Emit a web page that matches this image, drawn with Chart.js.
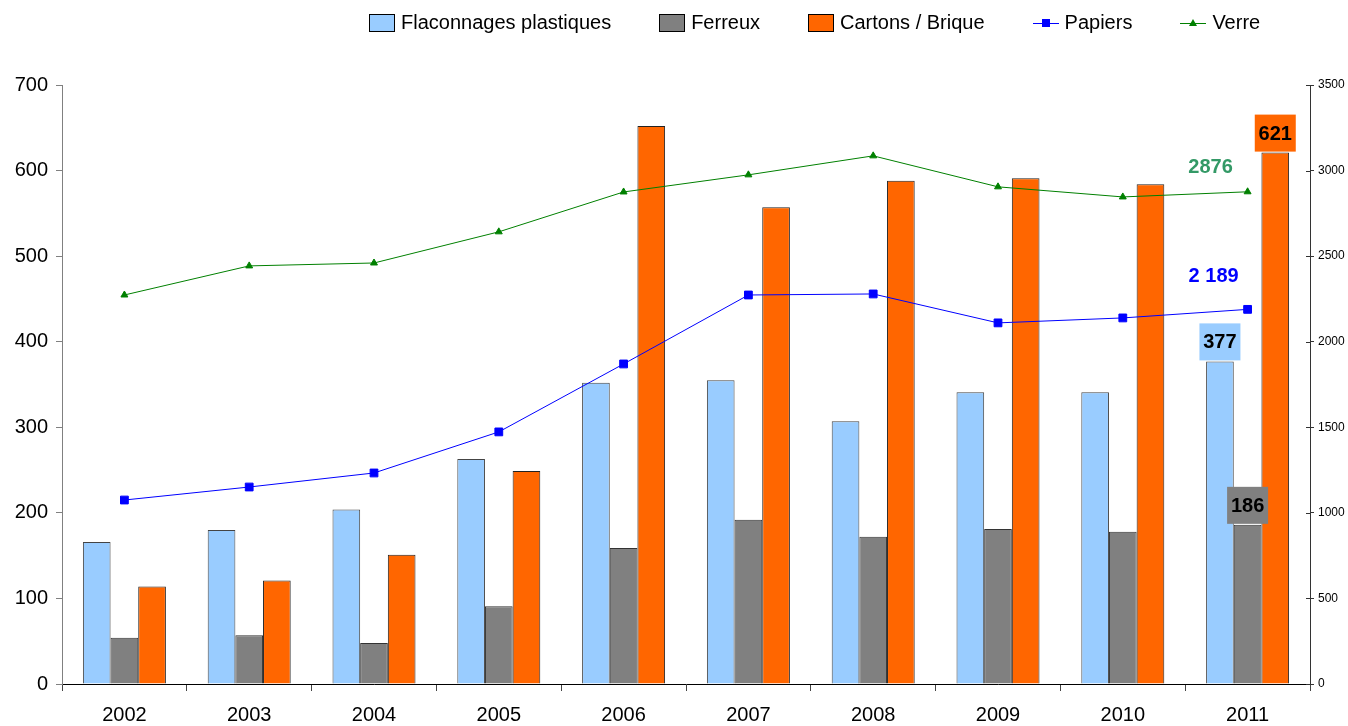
<!DOCTYPE html>
<html>
<head>
<meta charset="utf-8">
<script src="https://cdn.jsdelivr.net/npm/chart.js@4.4.0/dist/chart.umd.min.js"></script>
<style>
html, body { margin: 0; padding: 0; background: #fff; }
#wrap { position: relative; width: 1348px; height: 726px; }
#legend { position: absolute; left: 369px; top: 11px; display: flex; font-family: "Liberation Sans", Arial, sans-serif; font-size: 20px; color: #000; white-space: nowrap; }
.item { display: flex; align-items: center; margin-right: 48px; }
.item:last-child { margin-right: 0; }
.box { width: 24px; height: 16px; border: 1px solid #000; margin-right: 6px; }
.item svg { margin-right: 6px; }
</style>
</head>
<body>
<div id="wrap">
  <canvas id="chart" width="1348" height="726"></canvas>
  <div id="legend"></div>
</div>
<script>
// Data
const years = ['2002', '2003', '2004', '2005', '2006', '2007', '2008', '2009', '2010', '2011'];
const flaconnages = [166, 180, 204, 263, 352, 355, 307, 341, 341, 377];
const ferreux = [54, 57, 48, 91, 159, 192, 172, 181, 178, 186];
const cartons = [114, 121, 151, 249, 652, 557, 588, 591, 584, 621];
const papiers = [1075, 1151, 1233, 1473, 1870, 2273, 2279, 2110, 2139, 2189];
const verre = [2273, 2443, 2460, 2642, 2875, 2975, 3086, 2905, 2846, 2876];
const leftTicks = [0, 100, 200, 300, 400, 500, 600, 700];
const rightTicks = [0, 500, 1000, 1500, 2000, 2500, 3000, 3500];

const FONT = '"Liberation Sans", Arial, sans-serif';

function fmt(v, sep) {
    return String(v).replace(/\B(?=(\d{3})+(?!\d))/g, sep);
}

// labels shown on the last year only
const last = years.length - 1;
const barLabels = [
    { ds: 0, bg: '#99CCFF' },
    { ds: 1, bg: '#808080' },
    { ds: 2, bg: '#FF6600' }
];
const lineLabels = [
    { ds: 3, color: '#0000FF', sep: ' ', dx: -34, dy: -33 },
    { ds: 4, color: '#339966', sep: '', dx: -37, dy: -24 }
];

const labelPlugin = {
    id: 'valueLabels',
    afterDatasetsDraw(chart) {
        const ctx = chart.ctx;
        ctx.save();
        ctx.font = 'bold 20px ' + FONT;
        ctx.textAlign = 'center';
        ctx.textBaseline = 'middle';
        barLabels.forEach(l => {
            const el = chart.getDatasetMeta(l.ds).data[last];
            const w = 41, h = 37;
            ctx.fillStyle = l.bg;
            ctx.fillRect(el.x - w / 2, el.y - 1 - h, w, h);
            ctx.fillStyle = '#000';
            ctx.fillText(chart.data.datasets[l.ds].data[last], el.x, el.y - h / 2);
        });
        lineLabels.forEach(l => {
            const el = chart.getDatasetMeta(l.ds).data[last];
            ctx.fillStyle = l.color;
            ctx.fillText(fmt(chart.data.datasets[l.ds].data[last], l.sep), el.x + l.dx, el.y + l.dy);
        });
        ctx.restore();
    },
    afterDraw(chart) {
        // small inner ticks on the right axis
        const s = chart.scales.y1;
        const ctx = chart.ctx;
        ctx.save();
        ctx.strokeStyle = '#333';
        ctx.lineWidth = 1;
        s.ticks.forEach(t => {
            const y = Math.round(s.getPixelForValue(t.value)) + 0.5;
            ctx.beginPath();
            ctx.moveTo(chart.chartArea.right - 4, y);
            ctx.lineTo(chart.chartArea.right, y);
            ctx.stroke();
        });
        ctx.restore();
    }
};

const ctx = document.getElementById('chart').getContext('2d');
const myChart = new Chart(ctx, {
    type: 'bar',
    data: {
        labels: years,
        datasets: [
            { label: 'Flaconnages plastiques', data: flaconnages, backgroundColor: '#99CCFF', borderColor: '#444', borderWidth: 1, yAxisID: 'y', order: 1 },
            { label: 'Ferreux', data: ferreux, backgroundColor: '#808080', borderColor: '#333', borderWidth: 1, yAxisID: 'y', order: 1 },
            { label: 'Cartons / Brique', data: cartons, backgroundColor: '#FF6600', borderColor: '#222', borderWidth: 1, yAxisID: 'y', order: 1 },
            { type: 'line', label: 'Papiers', data: papiers, borderColor: '#0000FF', backgroundColor: '#0000FF', borderWidth: 1, pointStyle: 'rect', pointRadius: 5.5, yAxisID: 'y1', order: 0 },
            { type: 'line', label: 'Verre', data: verre, borderColor: '#008000', backgroundColor: '#008000', borderWidth: 1, pointStyle: 'triangle', pointRadius: 4, yAxisID: 'y1', order: 0 }
        ]
    },
    options: {
        responsive: false,
        animation: false,
        layout: { padding: { top: 85, left: 0, right: 0, bottom: 0 } },
        datasets: { bar: { categoryPercentage: 0.665, barPercentage: 1 } },
        plugins: { legend: { display: false }, tooltip: { enabled: false } },
        scales: {
            x: {
                afterFit: s => { s.height = 42; },
                border: { color: '#000' },
                grid: { drawOnChartArea: false, color: '#444', tickLength: 7, offset: true },
                ticks: { color: '#000', font: { family: FONT, size: 20 }, padding: 12, maxRotation: 0 }
            },
            y: {
                position: 'left',
                min: 0, max: 700,
                afterFit: s => { s.width = 62; },
                afterBuildTicks: s => { s.ticks = leftTicks.map(v => ({ value: v })); },
                border: { color: '#808080' },
                grid: { drawOnChartArea: false, color: '#808080', tickLength: 6 },
                ticks: { color: '#000', font: { family: FONT, size: 20 }, padding: 8, callback: v => String(v) }
            },
            y1: {
                position: 'right',
                min: 0, max: 3500,
                afterFit: s => { s.width = 38; },
                afterBuildTicks: s => { s.ticks = rightTicks.map(v => ({ value: v })); },
                border: { color: '#333' },
                grid: { drawOnChartArea: false, color: '#333', tickLength: 4 },
                ticks: { color: '#000', font: { family: FONT, size: 12 }, padding: 4, callback: v => String(v) }
            }
        }
    },
    plugins: [labelPlugin]
});

// HTML legend built from the datasets
const legend = document.getElementById('legend');
myChart.data.datasets.forEach(d => {
    const item = document.createElement('div');
    item.className = 'item';
    if (d.type === 'line') {
        const c = d.borderColor;
        const marker = d.pointStyle === 'rect'
            ? `<rect x="9" y="4" width="8" height="8" fill="${c}"/>`
            : `<polygon points="13,4 17,11 9,11" fill="${c}"/>`;
        item.innerHTML = `<svg width="26" height="16"><line x1="0" y1="8.5" x2="26" y2="8.5" stroke="${c}" stroke-width="1"/>${marker}</svg><span>${d.label}</span>`;
    } else {
        item.innerHTML = `<div class="box" style="background:${d.backgroundColor}"></div><span>${d.label}</span>`;
    }
    legend.appendChild(item);
});
</script>
</body>
</html>
